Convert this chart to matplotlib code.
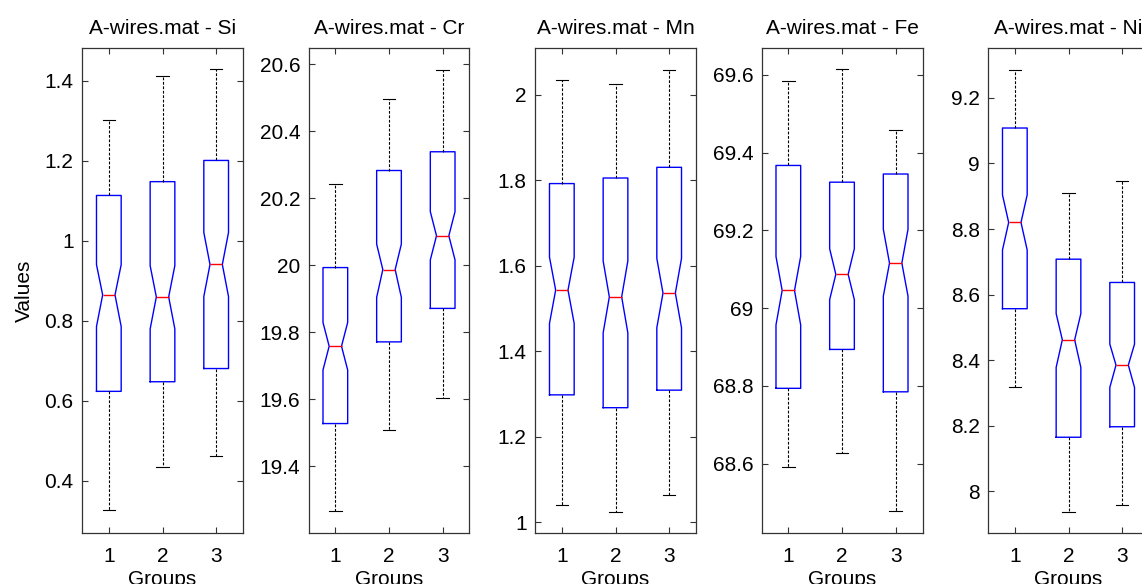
import numpy as np
import matplotlib
matplotlib.use("Agg")
import matplotlib.pyplot as plt
from matplotlib.ticker import FormatStrFormatter

plt.rcParams["font.family"] = ["Liberation Sans", "DejaVu Sans"]

elements = ["Si", "Cr", "Mn", "Fe", "Ni"]
groups = [1, 2, 3]

# per element, per group (1, 2, 3)
whisker_hi = [[1.302, 1.413, 1.429],
              [20.244, 20.497, 20.584],
              [2.035, 2.024, 2.057],
              [69.583, 69.614, 69.458],
              [9.284, 8.910, 8.945]]
q3 = [[1.1135, 1.148, 1.201],
      [19.993, 20.283, 20.339],
      [1.792, 1.805, 1.830],
      [69.367, 69.324, 69.345],
      [9.108, 8.708, 8.637]]
medians = [[0.865, 0.860, 0.941],
           [19.758, 19.987, 20.088],
           [1.543, 1.527, 1.536],
           [69.0455, 69.087, 69.116],
           [8.820, 8.462, 8.385]]
q1 = [[0.624, 0.648, 0.681],
      [19.527, 19.771, 19.871],
      [1.298, 1.268, 1.309],
      [68.794, 68.894, 68.785],
      [8.557, 8.165, 8.197]]
whisker_lo = [[0.3265, 0.434, 0.463],
              [19.267, 19.508, 19.602],
              [1.040, 1.024, 1.065],
              [68.591, 68.627, 68.479],
              [8.319, 7.937, 7.957]]
notch_hi = [[0.9405, 0.938, 1.021],
            [19.829, 20.063, 20.160],
            [1.620, 1.611, 1.617],
            [69.133, 69.153, 69.203],
            [8.904, 8.542, 8.449]]
notch_lo = [[0.786, 0.780, 0.861],
            [19.687, 19.904, 20.016],
            [1.465, 1.443, 1.455],
            [68.957, 69.022, 69.031],
            [8.736, 8.378, 8.317]]

yticks = [np.arange(0.4, 1.41, 0.2),
          np.arange(19.4, 20.61, 0.2),
          np.arange(1.0, 2.01, 0.2),
          np.arange(68.6, 69.61, 0.2),
          np.arange(8.0, 9.21, 0.2)]
ylims = [(0.270, 1.482), (19.20, 20.649), (0.975, 2.109),
         (68.422, 69.669), (7.873, 9.352)]

W, H = 1142, 584
fig = plt.figure(figsize=(W / 100, H / 100), dpi=100)

for i, el in enumerate(elements):
    left = 82 + i * 226.5
    ax = fig.add_axes([left / W, (H - 533) / H, 161 / W, 485 / H])
    stats = []
    for g in range(3):
        stats.append(dict(med=medians[i][g], q1=q1[i][g], q3=q3[i][g],
                          whislo=whisker_lo[i][g], whishi=whisker_hi[i][g],
                          cilo=notch_lo[i][g], cihi=notch_hi[i][g],
                          fliers=[], label=str(groups[g])))
    ax.bxp(stats, positions=groups, widths=0.46, shownotches=True,
           showfliers=False,
           boxprops=dict(color="#0000ff", lw=1.0),
           medianprops=dict(color="#ff0000", lw=1.0),
           whiskerprops=dict(color="black", lw=0.8, linestyle=(0, (2.5, 1.5))),
           capprops=dict(color="black", lw=0.8))
    ax.set_xlim(0.5, 3.5)
    ax.set_ylim(*ylims[i])
    ax.set_yticks(yticks[i])
    ax.yaxis.set_major_formatter(FormatStrFormatter("%g"))
    ax.set_xticks(groups)
    ax.set_xticklabels([str(g) for g in groups])
    ax.tick_params(direction="in", top=True, right=True, length=4,
                   width=0.8, labelsize=15, color="#333333")
    ax.tick_params(axis="y", pad=6)
    ax.tick_params(axis="x", pad=10)
    for sp in ax.spines.values():
        sp.set_linewidth(0.9)
        sp.set_color("#333333")
    ax.set_title("A-wires.mat - " + el, fontsize=15, pad=10)
    ax.set_xlabel("Groups", fontsize=15, labelpad=3)
    if i == 0:
        ax.set_ylabel("Values", fontsize=15, labelpad=8)

fig.savefig("out.png", dpi=100)
